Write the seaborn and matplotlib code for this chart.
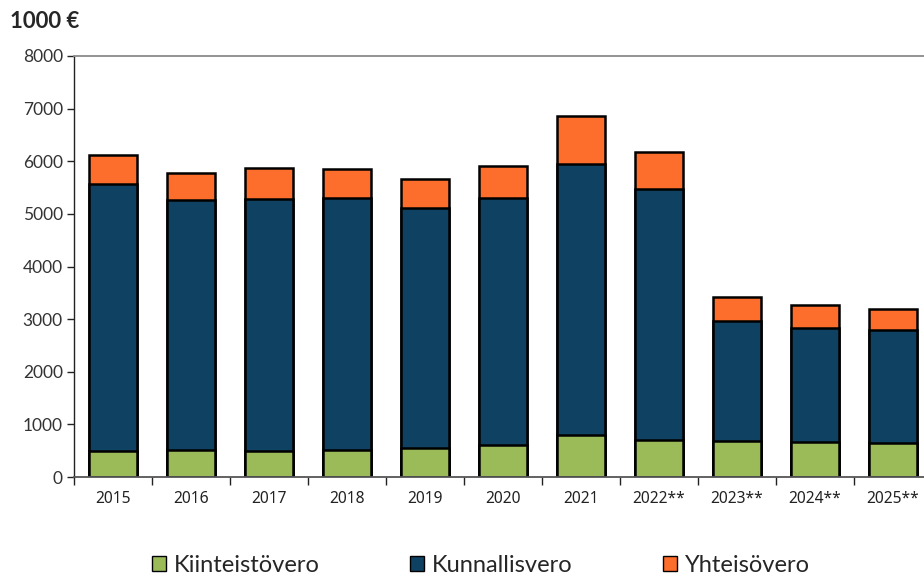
import numpy as np
import pandas as pd
import seaborn as sns
import matplotlib.pyplot as plt
from matplotlib.patches import Patch

years = ['2015', '2016', '2017', '2018', '2019', '2020', '2021',
         '2022**', '2023**', '2024**', '2025**']
kiinteisto = [500, 513, 494, 513, 551, 614, 792, 697, 690, 671, 652]
kunnallis = [5064, 4747, 4785, 4797, 4557, 4683, 5152, 4778, 2276, 2168, 2137]
yhteiso = [558, 519, 601, 546, 563, 621, 913, 710, 462, 425, 411]

colors = {'Kiinteistövero': '#9bbb59', 'Kunnallisvero': '#0f4163', 'Yhteisövero': '#fd6d2b'}

sns.set_style('white')
plt.rcParams['font.family'] = ['Lato', 'DejaVu Sans']

df = pd.DataFrame({'year': years, 'k': kiinteisto, 'ku': kunnallis, 'y': yhteiso})
df['lvl1'] = df['k']
df['lvl2'] = df['k'] + df['ku']
df['lvl3'] = df['lvl2'] + df['y']

fig = plt.figure(figsize=(9.24, 5.76), dpi=100)
ax = fig.add_axes([74 / 924, 1 - 477 / 576, 858 / 924, 421 / 576])

# stacked by drawing the cumulative totals from the top down
for col, name in [('lvl3', 'Yhteisövero'), ('lvl2', 'Kunnallisvero'), ('lvl1', 'Kiinteistövero')]:
    sns.barplot(data=df, x='year', y=col, color=colors[name], edgecolor='black',
                linewidth=1.8, width=0.61, saturation=1, ax=ax)

ax.set_xlim(-0.5, len(years) - 0.5)
ax.set_ylim(0, 8000)
ax.set_yticks(range(0, 8001, 1000))
ax.set_xlabel('')
ax.set_ylabel('')

ax.set_xticks(np.arange(len(years) + 1) - 0.5, minor=True)
ax.tick_params(axis='x', which='major', length=0, pad=10, labelcolor='#222222')
ax.tick_params(axis='x', which='minor', length=6, width=1, color='#222222', direction='out', bottom=True)
ax.tick_params(axis='y', which='major', length=5, width=1, color='#222222', direction='out',
               left=True, labelsize=12.5, labelcolor='#333333', pad=3)
for lab in ax.get_xticklabels():
    lab.set_fontfamily(['Noto Sans', 'DejaVu Sans'])
    lab.set_fontsize(11.2)

ax.spines['right'].set_visible(False)
ax.spines['top'].set_color('#8a8a8a')
ax.spines['top'].set_linewidth(1.3)
ax.spines['left'].set_color('#222222')
ax.spines['left'].set_linewidth(1)
ax.spines['bottom'].set_color('#555555')
ax.spines['bottom'].set_linewidth(1.3)

fig.text(10 / 924, 1 - 22 / 576, '1000 €', fontsize=16, fontweight='bold', va='center', ha='left')

handles = [Patch(facecolor=colors[n], edgecolor='black', linewidth=1) for n in colors]
fig.legend(handles, list(colors), loc='center', bbox_to_anchor=(481 / 924, 1 - 565 / 576),
           ncol=3, frameon=False, fontsize=17, handlelength=0.6, handleheight=0.62,
           handletextpad=0.35, columnspacing=3.8)

plt.savefig('out.png', dpi=100)
